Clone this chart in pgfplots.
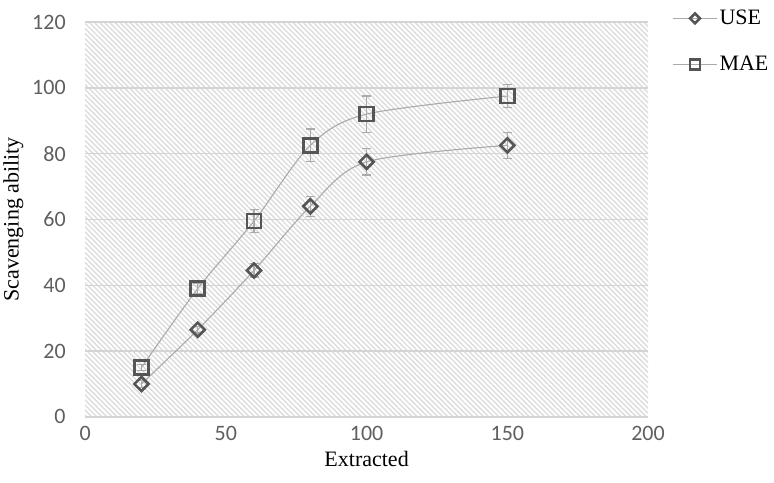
\documentclass[border=0pt]{standalone}
\usepackage{pgfplots}
\usepackage{pgfplotstable}
\pgfplotsset{compat=1.18}
\usepackage{fontspec}
\setmainfont{Liberation Serif}
\newfontfamily\carlito{Carlito}
\usetikzlibrary{patterns.meta,calc}

\definecolor{markgray}{RGB}{85,85,85}
\definecolor{linegray}{RGB}{170,170,170}
\definecolor{gridgray}{RGB}{212,212,212}
\definecolor{hatchgray}{RGB}{220,220,220}
\definecolor{tickgray}{RGB}{95,95,95}

% x  y  err
\pgfplotstableread{
x   y     e
20  10    1
40  26.5  1
60  44.5  2
80  64    3
100 77.5  4
150 82.5  4
}\usedata
\pgfplotstableread{
x   y     e
20  15    1
40  39    1.5
60  59.5  3.5
80  82.5  5
100 92    5.5
150 97.5  3.5
}\maedata

\pgfplotsset{
    errplot/.style={draw=none, mark=none, forget plot,
        error bars/.cd, y dir=both, y explicit,
        error bar style={linegray, line width=1.2pt},
        error mark options={rotate=90, mark size=4.5pt, linegray, line width=1.2pt}},
    mainplot/.style={smooth, linegray, line width=1.1pt},
}

\begin{document}
\begin{tikzpicture}
\begin{axis}[
    name=ax,
    scale only axis,
    width=563pt, height=395pt,
    xmin=0, xmax=200, ymin=0, ymax=120,
    xtick={0,50,100,150,200},
    ytick={0,20,40,60,80,100,120},
    axis background/.style={pattern={Lines[angle=-45,distance=3.6pt,line width=1.4pt]}, pattern color=hatchgray},
    ymajorgrids,
    grid style={gridgray, line width=1.4pt},
    axis line style={draw=none},
    major tick length=0pt,
    /pgf/number format/assume math mode=true,
    ticklabel style={font=\carlito\fontsize{22}{26}\selectfont, text=tickgray},
    xticklabel style={yshift=-6pt},
    yticklabel style={xshift=-16pt},
    xlabel={Extracted},
    ylabel={Scavenging ability},
    label style={font=\fontsize{22}{26}\selectfont, text=black},
    xlabel style={yshift=-4pt},
    ylabel style={yshift=2pt},
    legend style={draw=none, fill=none, at={(1.043,1.035)}, anchor=north west,
        font=\fontsize{22}{26}\selectfont, row sep=26pt, inner sep=0pt},
    legend cell align=left,
    legend image code/.code={
        \draw[mark repeat=2,mark phase=2,every mark/.append style={scale=0.7}]
            plot coordinates {(0pt,0pt) (22pt,0pt) (44pt,0pt)};
    },
]
\addplot+[errplot] table[x=x, y=y, y error=e] {\usedata};
\addplot+[errplot] table[x=x, y=y, y error=e] {\maedata};

\addplot+[mainplot, mark=square, mark size=5pt,
    mark options={draw=markgray, fill=white, line width=2.6pt, solid, rotate=45}]
    table[x=x, y=y] {\usedata};
\addlegendentry{USE}
\addplot+[mainplot, mark=square, mark size=7pt,
    mark options={draw=markgray, fill=white, line width=2.6pt, solid}]
    table[x=x, y=y] {\maedata};
\addlegendentry{MAE}
\end{axis}
\path ($(ax.south west)+(-85pt,-66pt)$) rectangle ($(ax.north east)+(126pt,22pt)$);
\end{tikzpicture}
\end{document}
